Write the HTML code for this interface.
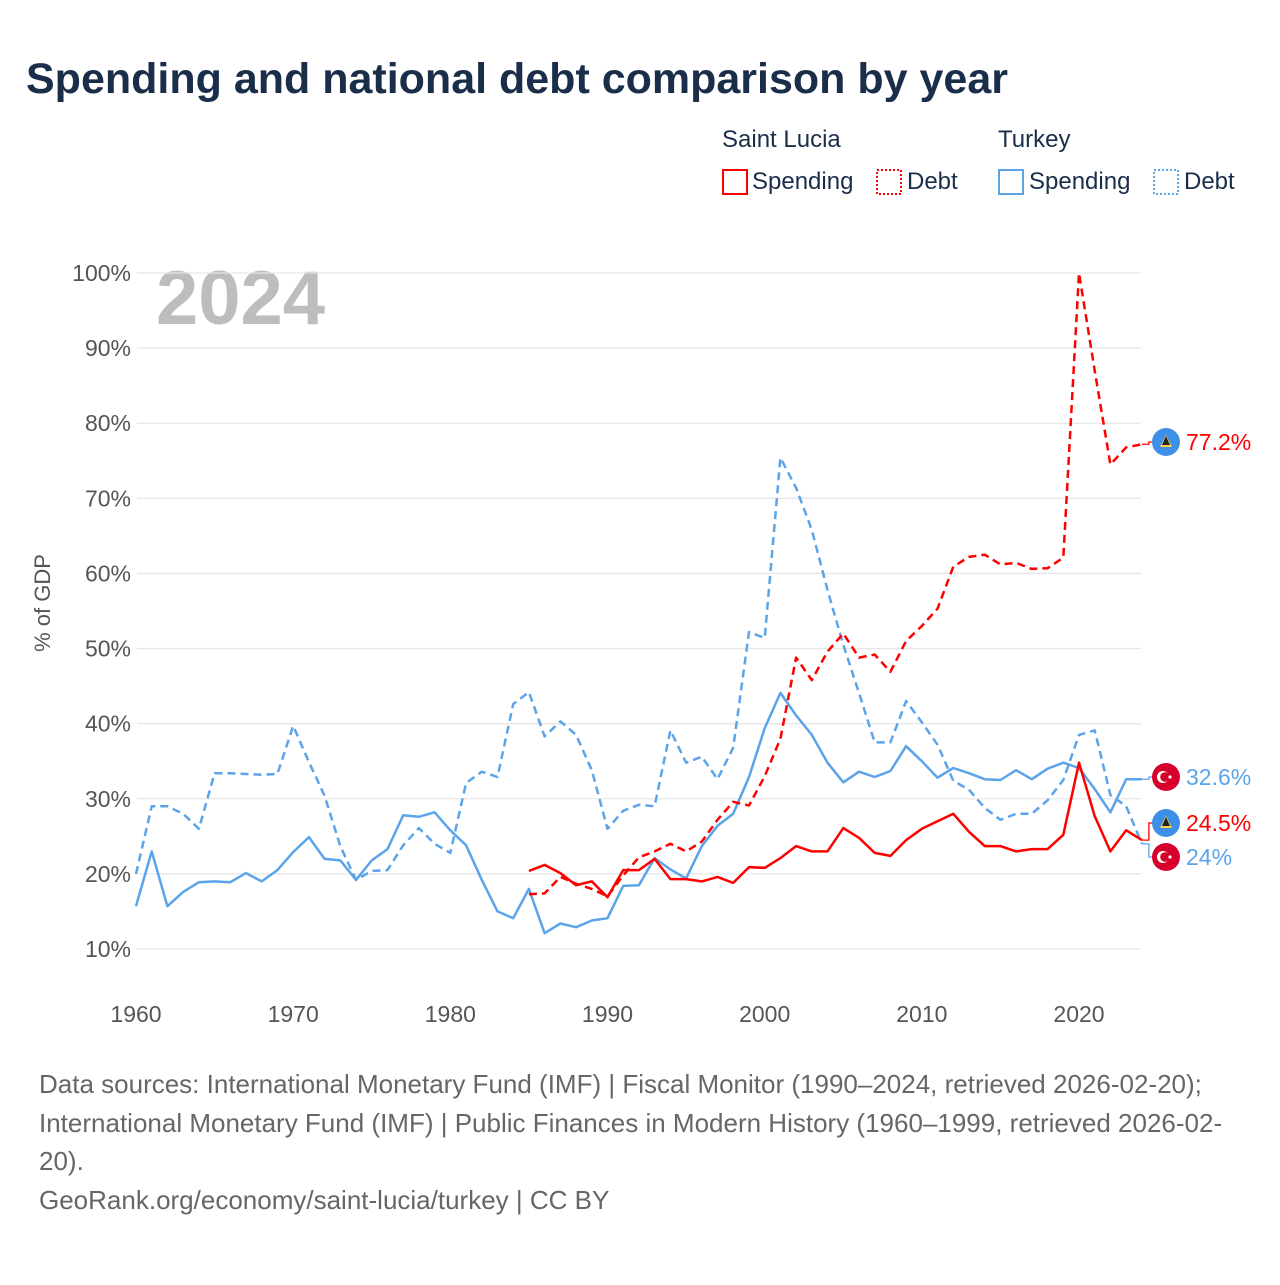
<!DOCTYPE html>
<html><head><meta charset="utf-8">
<style>
body{margin:0;background:#fff;}
svg text{font-family:"Liberation Sans",sans-serif;}
</style></head>
<body>
<svg id="chart" width="1280" height="1280" xmlns="http://www.w3.org/2000/svg">
<rect width="1280" height="1280" fill="#fff"/>
<text x="26" y="93" font-size="43" font-weight="bold" fill="#1a2e4a">Spending and national debt comparison by year</text>
<g font-size="24" fill="#1a2e4a">
<text x="722" y="147">Saint Lucia</text>
<text x="998" y="147">Turkey</text>
<g><rect x="723" y="170" width="24" height="24" fill="none" stroke="#ff0000" stroke-width="2"/><text x="752" y="189">Spending</text></g>
<g><rect x="877" y="170" width="24" height="24" fill="none" stroke="#ff0000" stroke-width="2" stroke-dasharray="2,2"/><text x="907" y="189">Debt</text></g>
<g><rect x="999" y="170" width="24" height="24" fill="none" stroke="#5ba4ea" stroke-width="2"/><text x="1029" y="189">Spending</text></g>
<g><rect x="1154" y="170" width="24" height="24" fill="none" stroke="#5ba4ea" stroke-width="2" stroke-dasharray="2,2"/><text x="1184" y="189">Debt</text></g>
</g>
<text transform="translate(50,603) rotate(-90)" text-anchor="middle" font-size="22" fill="#555">% of GDP</text>
<text x="156" y="324" font-size="76" font-weight="bold" fill="#bdbdbd">2024</text>
<g id="grid"></g><g id="yticks"></g><g id="xticks"></g><g id="series"></g><g id="endlabels"></g>
<g font-size="26" fill="#666">
<text x="39" y="1093">Data sources: International Monetary Fund (IMF) | Fiscal Monitor (1990–2024, retrieved 2026-02-20);</text>
<text x="39" y="1132">International Monetary Fund (IMF) | Public Finances in Modern History (1960–1999, retrieved 2026-02-</text>
<text x="39" y="1170">20).</text>
<text x="39" y="1209">GeoRank.org/economy/saint-lucia/turkey | CC BY</text>
</g>
</svg>
<script>
const yTicks=[10,20,30,40,50,60,70,80,90,100];
const xTicks=[1960,1970,1980,1990,2000,2010,2020];
const turkeyYears=[1960,1961,1962,1963,1964,1965,1966,1967,1968,1969,1970,1971,1972,1973,1974,1975,1976,1977,1978,1979,1980,1981,1982,1983,1984,1985,1986,1987,1988,1989,1990,1991,1992,1993,1994,1995,1996,1997,1998,1999,2000,2001,2002,2003,2004,2005,2006,2007,2008,2009,2010,2011,2012,2013,2014,2015,2016,2017,2018,2019,2020,2021,2022,2023,2024];
const turkeySpending=[15.7,23.0,15.7,17.6,18.9,19.0,18.9,20.1,19.0,20.5,22.9,24.9,22.0,21.8,19.2,21.8,23.3,27.8,27.6,28.2,25.8,23.8,19.2,15.0,14.1,18.0,12.1,13.4,12.9,13.8,14.1,18.4,18.5,22.1,20.6,19.4,23.7,26.4,28.0,32.9,39.4,44.1,41.1,38.5,34.8,32.2,33.6,32.9,33.7,37.0,35.0,32.8,34.1,33.4,32.6,32.5,33.8,32.6,34.0,34.8,34.1,31.3,28.2,32.6,32.6];
const turkeyDebt=[20.0,29.0,29.0,28.0,26.0,33.4,33.4,33.3,33.2,33.3,39.7,34.9,30.4,23.7,19.2,20.4,20.5,23.8,26.1,24.0,22.8,32.1,33.6,32.9,42.6,44.2,38.3,40.3,38.5,33.8,26.0,28.4,29.2,29.0,39.1,34.8,35.6,32.6,36.8,52.2,51.4,75.4,71.4,65.8,57.8,50.5,44.1,37.5,37.5,43.0,40.2,37.2,32.4,31.2,28.8,27.2,28.0,28.0,29.8,32.5,38.5,39.1,30.5,29.0,24.0];
const luciaYears=[1985,1986,1987,1988,1989,1990,1991,1992,1993,1994,1995,1996,1997,1998,1999,2000,2001,2002,2003,2004,2005,2006,2007,2008,2009,2010,2011,2012,2013,2014,2015,2016,2017,2018,2019,2020,2021,2022,2023,2024];
const luciaSpending=[20.4,21.2,20.1,18.5,19.0,16.9,20.5,20.5,22.0,19.3,19.3,19.0,19.6,18.8,20.9,20.8,22.1,23.7,23.0,23.0,26.1,24.8,22.8,22.4,24.5,26.0,27.0,28.0,25.6,23.7,23.7,23.0,23.3,23.3,25.2,34.8,27.7,23.0,25.8,24.5];
const luciaDebt=[17.3,17.4,19.6,18.7,18.0,17.0,19.8,22.2,23.0,24.0,23.0,24.3,27.2,29.6,29.1,33.0,38.0,48.8,45.8,49.6,52.0,48.8,49.2,46.9,51.0,53.0,55.3,60.9,62.2,62.5,61.2,61.4,60.6,60.7,62.1,100.0,87.0,74.5,76.8,77.2];

const NS="http://www.w3.org/2000/svg";
const X0=136,PX_PER_YEAR=(1079-136)/60,Y100=273,PX_PER_PCT=(949-273)/90;
const xs=y=>X0+(y-1960)*PX_PER_YEAR;
const ys=v=>Y100+(100-v)*PX_PER_PCT;
function mk(tag,attrs,parent){const e=document.createElementNS(NS,tag);for(const k in attrs)e.setAttribute(k,attrs[k]);parent.appendChild(e);return e;}
const grid=document.getElementById('grid'),yt=document.getElementById('yticks'),xt=document.getElementById('xticks');
yTicks.forEach(v=>{
 const l=mk('line',{x1:137,x2:1141,y1:ys(v),y2:ys(v),stroke:'#e6e6e6','stroke-width':1.3},grid);
 
 
 const t=mk('text',{x:131,y:ys(v)+8,'text-anchor':'end','font-size':23,fill:'#555'},yt);
 t.textContent=v+'%';
 
 
});
xTicks.forEach(v=>{
 const t=mk('text',{x:xs(v),y:1022,'text-anchor':'middle','font-size':23,fill:'#555'},xt);
 t.textContent=v;
 
 
});
const ser=document.getElementById('series');
function line(years,vals,color,dash,name){
 const d=years.map((y,i)=>(i?'L':'M')+xs(y).toFixed(1)+','+ys(vals[i]).toFixed(1)).join('');
 const p=mk('path',{d:d,fill:'none',stroke:color,'stroke-width':2.5,'stroke-linejoin':'round'},ser);
 if(dash)p.setAttribute('stroke-dasharray','8,5');
 
 
}
line(turkeyYears,turkeyDebt,'#5ba4ea',true,'line-turkey-debt');
line(turkeyYears,turkeySpending,'#5ba4ea',false,'line-turkey-spending');
line(luciaYears,luciaDebt,'#ff0000',true,'line-saint-lucia-debt');
line(luciaYears,luciaSpending,'#ff0000',false,'line-saint-lucia-spending');

const el=document.getElementById('endlabels');
const lastX=xs(2024);
function endLabel(vy,labelY,val,color,flag,name){
 const pth=mk('path',{d:`M${lastX},${ys(val)} L${lastX+7},${ys(val)} L${lastX+7},${labelY} L1154,${labelY}`,fill:'none',stroke:color,'stroke-width':1.3},el);
 
 
 const g=mk('g',{},el);
 
 
 if(flag==='lc'){
  mk('circle',{cx:1166,cy:labelY,r:14,fill:'#3d8fe8'},g);
  mk('polygon',{points:`1166,${labelY-7} 1172,${labelY+5} 1160,${labelY+5}`,fill:'#ffd24a'},g);
  mk('polygon',{points:`1166,${labelY-6} 1170,${labelY+3} 1162,${labelY+3}`,fill:'#222'},g);
 }else{
  mk('circle',{cx:1166,cy:labelY,r:14,fill:'#d6002a'},g);
  mk('circle',{cx:1163,cy:labelY,r:6,fill:'#fff'},g);
  mk('circle',{cx:1165,cy:labelY,r:4.8,fill:'#d6002a'},g);
  mk('circle',{cx:1170,cy:labelY,r:1.6,fill:'#fff'},g);
 }
 const t=mk('text',{x:1186,y:labelY+8,'font-size':23,fill:color},g);
 t.textContent=vy;
}
endLabel('77.2%',442,luciaDebt[luciaDebt.length-1],'#ff0000','lc','end-label-saint-lucia-debt');
endLabel('32.6%',777,turkeySpending[turkeySpending.length-1],'#5ba4ea','tr','end-label-turkey-spending');
endLabel('24.5%',823,luciaSpending[luciaSpending.length-1],'#ff0000','lc','end-label-saint-lucia-spending');
endLabel('24%',857,turkeyDebt[turkeyDebt.length-1],'#5ba4ea','tr','end-label-turkey-debt');
</script>
</body></html>
